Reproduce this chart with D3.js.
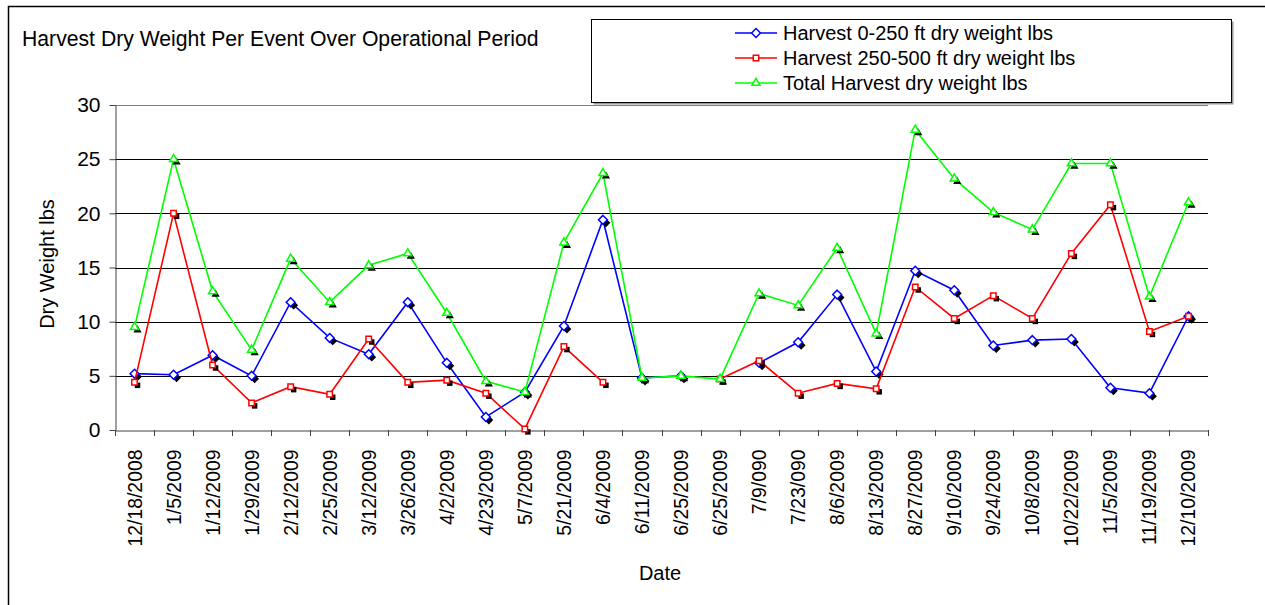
<!DOCTYPE html>
<meta charset="utf-8">
<style>
  body { margin: 0; background: #fff; }
  svg { font-family: "Liberation Sans", Arial, sans-serif; }
  .axis path, .axis line { stroke: #404040; }
</style>
<svg width="1265" height="605"></svg>
<script src="https://d3js.org/d3.v7.min.js"></script>
<script>
  // harvest event dates (6/25 shows twice in the source sheet)
  var dates = ["12/18/2008", "1/5/2009", "1/12/2009", "1/29/2009", "2/12/2009", "2/25/2009", "3/12/2009",
    "3/26/2009", "4/2/2009", "4/23/2009", "5/7/2009", "5/21/2009", "6/4/2009", "6/11/2009", "6/25/2009",
    "6/25/2009", "7/9/090", "7/23/090", "8/6/2009", "8/13/2009", "8/27/2009", "9/10/2009", "9/24/2009",
    "10/8/2009", "10/22/2009", "11/5/2009", "11/19/2009", "12/10/2009"];

  var harvest0to250 = [5.2, 5.1, 6.9, 5.0, 11.8, 8.5, 7.0, 11.8, 6.2, 1.2, 3.5, 9.6, 19.4, 4.8, 5.0, null,
    6.2, 8.1, 12.5, 5.4, 14.7, 12.9, 7.8, 8.3, 8.4, 3.9, 3.4, 10.5];
  var harvest250to500 = [4.4, 20.0, 6.0, 2.5, 4.0, 3.3, 8.4, 4.4, 4.6, 3.4, 0.1, 7.7, 4.4, null, null,
    4.7, 6.4, 3.4, 4.3, 3.8, 13.2, 10.3, 12.4, 10.3, 16.3, 20.8, 9.1, 10.5];
  var harvestTotal = [9.5, 25.0, 12.8, 7.4, 15.8, 11.8, 15.2, 16.3, 10.8, 4.5, 3.5, 17.3, 23.7, 4.8, 5.0,
    4.7, 12.6, 11.5, 16.8, 8.9, 27.7, 23.2, 20.1, 18.5, 24.6, 24.6, 12.3, 21.0];

  var yTicks = [0, 5, 10, 15, 20, 25, 30];

  var series = [
    { name: "Harvest 0-250 ft dry weight lbs", values: harvest0to250, color: "#0000ff", symbol: "diamond" },
    { name: "Harvest 250-500 ft dry weight lbs", values: harvest250to500, color: "#ff0000", symbol: "square" },
    { name: "Total Harvest dry weight lbs", values: harvestTotal, color: "#00ff00", symbol: "triangle" }
  ];

  var svg = d3.select("svg");
  var plotLeft = 115, plotRight = 1208, plotTop = 105, plotBottom = 430;

  var x = d3.scaleBand().domain(d3.range(dates.length)).range([plotLeft, plotRight]).paddingInner(0);
  var y = d3.scaleLinear().domain([0, 30]).range([plotBottom, plotTop]);

  function cx(i) { return x(i) + x.bandwidth() / 2; }

  // marker shapes, small hollow ones like excel
  var shapes = {
    diamond: d3.symbol().type(d3.symbolDiamond2).size(50),
    square: d3.symbol().type(d3.symbolSquare2).size(38),
    triangle: d3.symbol().type(d3.symbolTriangle2).size(48)
  };

  // outer chart border
  svg.append("rect")
    .attr("x", 8.5).attr("y", 6.5).attr("width", 1300).attr("height", 650)
    .attr("fill", "none").attr("stroke", "#000").attr("stroke-width", 1.5);

  // horizontal gridlines
  svg.append("g")
    .selectAll("line").data(yTicks.slice(1)).join("line")
    .attr("x1", plotLeft).attr("x2", plotRight)
    .attr("y1", function (d) { return Math.round(y(d)) + 0.5; })
    .attr("y2", function (d) { return Math.round(y(d)) + 0.5; })
    .attr("stroke", function (d) { return d === 30 ? "#808080" : "#000"; });

  // y axis
  var yAxis = svg.append("g").attr("class", "axis")
    .attr("transform", "translate(" + (plotLeft + 0.5) + ",0)")
    .call(d3.axisLeft(y).tickValues(yTicks).tickSize(6).tickSizeOuter(0).tickPadding(9));
  yAxis.selectAll("text").attr("font-size", 21).attr("fill", "#000").attr("font-family", null);

  // x axis with boundary ticks
  var xAxis = svg.append("g").attr("class", "axis")
    .attr("transform", "translate(0," + (plotBottom + 0.5) + ")")
    .call(d3.axisBottom(x).tickSize(0).tickSizeOuter(0).tickFormat(function (i) { return dates[i]; }));
  xAxis.selectAll("text")
    .attr("font-size", 19.4).attr("fill", "#000").attr("font-family", null)
    .attr("text-anchor", "end")
    .attr("transform", "rotate(-90)")
    .attr("x", -19).attr("y", 0).attr("dy", "0.36em");

  svg.append("g").selectAll("line").data(d3.range(dates.length + 1)).join("line")
    .attr("x1", function (i) { return Math.round(plotLeft + i * x.step()) + 0.5; })
    .attr("x2", function (i) { return Math.round(plotLeft + i * x.step()) + 0.5; })
    .attr("y1", plotBottom).attr("y2", plotBottom + 6)
    .attr("stroke", "#404040");

  // series
  var line = d3.line()
    .defined(function (d) { return d != null; })
    .x(function (d, i) { return cx(i); })
    .y(function (d) { return y(d); });

  series.forEach(function (s) {
    var g = svg.append("g");
    g.append("path")
      .attr("d", line(s.values))
      .attr("fill", "none").attr("stroke", s.color).attr("stroke-width", 1.6);

    var pts = s.values.map(function (v, i) { return { v: v, i: i }; })
      .filter(function (d) { return d.v != null; });

    g.selectAll("path.shadow").data(pts).join("path")
      .attr("class", "shadow")
      .attr("d", shapes[s.symbol])
      .attr("transform", function (d) { return "translate(" + (cx(d.i) + 3) + "," + (y(d.v) + 3) + ")"; })
      .attr("fill", "#000");

    g.selectAll("path.mark").data(pts).join("path")
      .attr("class", "mark")
      .attr("d", shapes[s.symbol])
      .attr("transform", function (d) { return "translate(" + cx(d.i) + "," + y(d.v) + ")"; })
      .attr("fill", "#fff").attr("stroke", s.color).attr("stroke-width", 1.5);
  });

  // title
  svg.append("text")
    .attr("x", 22).attr("y", 46)
    .attr("font-size", 21.2)
    .text("Harvest Dry Weight Per Event Over Operational Period");

  // axis titles
  svg.append("text")
    .attr("transform", "translate(54,264) rotate(-90)")
    .attr("text-anchor", "middle").attr("font-size", 20)
    .text("Dry Weight lbs");

  svg.append("text")
    .attr("x", 660).attr("y", 580)
    .attr("text-anchor", "middle").attr("font-size", 20)
    .text("Date");

  // legend box
  var lg = svg.append("g");
  lg.append("rect")
    .attr("x", 593.5).attr("y", 21.5).attr("width", 640).attr("height", 83)
    .attr("fill", "#999");
  lg.append("rect")
    .attr("x", 591.5).attr("y", 19.5).attr("width", 640).attr("height", 83)
    .attr("fill", "#fff").attr("stroke", "#000").attr("stroke-width", 1);

  var rows = lg.selectAll("g.row").data(series).join("g")
    .attr("class", "row")
    .attr("transform", function (d, i) { return "translate(0," + (33 + i * 25) + ")"; });
  rows.append("line")
    .attr("x1", 735).attr("x2", 777)
    .attr("stroke", function (d) { return d.color; }).attr("stroke-width", 1.6);
  rows.append("path")
    .attr("d", function (d) { return shapes[d.symbol](); })
    .attr("transform", "translate(756,0)")
    .attr("fill", "#fff")
    .attr("stroke", function (d) { return d.color; }).attr("stroke-width", 1.5);
  rows.append("text")
    .attr("x", 783).attr("dy", "0.35em").attr("font-size", 20)
    .text(function (d) { return d.name; });
</script>
